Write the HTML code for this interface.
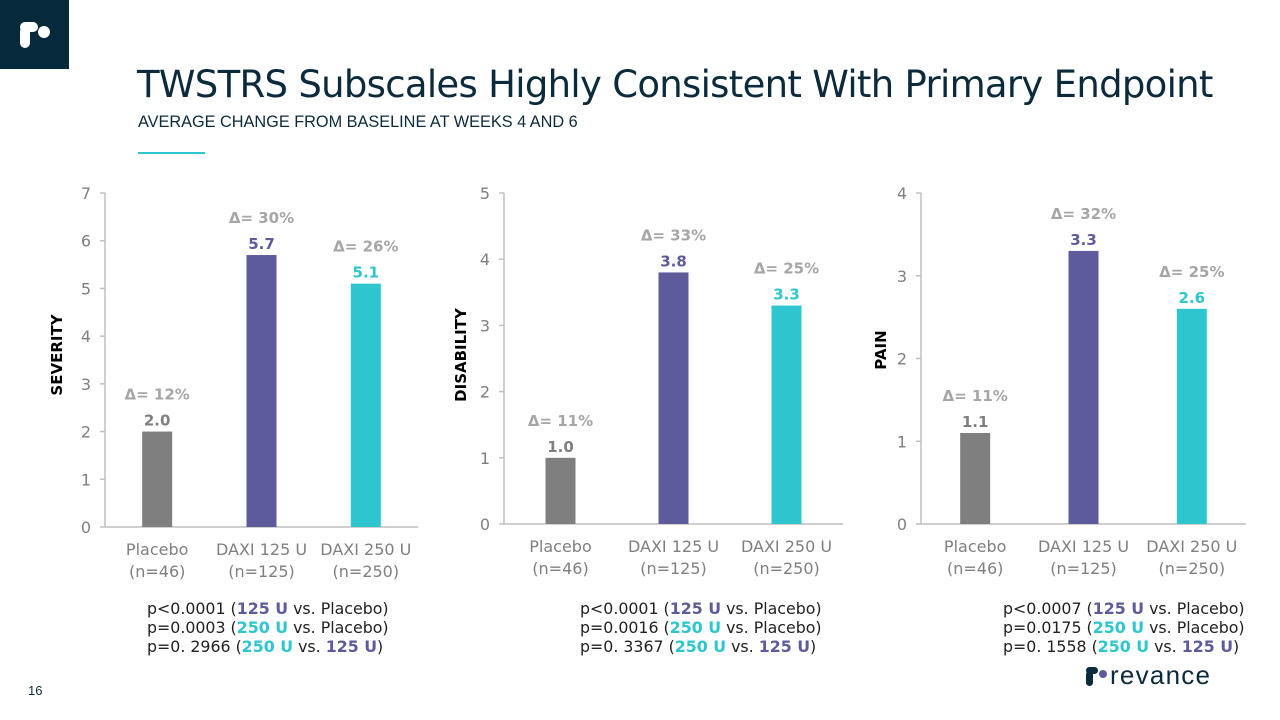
<!DOCTYPE html>
<html><head><meta charset="utf-8"><style>
body{margin:0;width:1280px;height:720px;background:#fff;position:relative;overflow:hidden;font-family:"Liberation Sans",sans-serif}
.abs{position:absolute}
.pv{position:absolute;line-height:19px;color:#222;font-family:"DejaVu Sans","Liberation Sans",sans-serif;font-size:15.8px}
.p{color:#5e5b9b;font-weight:bold}.t{color:#2dc6cf;font-weight:bold}
</style></head><body>
<div class="abs" style="left:0;top:0;width:69px;height:69px;background:#062a3b">
<svg width="69" height="69"><rect x="20" y="26" width="10" height="22" rx="5" fill="#fff"/><rect x="20" y="22" width="18" height="10" rx="5" fill="#fff"/><circle cx="44" cy="32" r="6" fill="#fff"/></svg></div>
<div class="abs" style="left:137px;top:63px;font-size:37px;color:#0b2a3b;font-family:'DejaVu Sans',sans-serif;letter-spacing:-0.7px;white-space:nowrap">TWSTRS Subscales Highly Consistent With Primary Endpoint</div>
<div class="abs" style="left:138px;top:113px;font-size:16.3px;color:#0b2a3b;white-space:nowrap">AVERAGE CHANGE FROM BASELINE AT WEEKS 4 AND 6</div>
<div class="abs" style="left:138px;top:152px;width:67px;height:2px;background:#2dc6cf"></div>
<svg class="abs" style="left:0;top:0" width="1280" height="720" id="charts"></svg>
<div class="pv" style="left:147px;top:599px">p&lt;0.0001 (<span class="p">125 U</span> vs. Placebo)<br>p=0.0003 (<span class="t">250 U</span> vs. Placebo)<br>p=0. 2966 (<span class="t">250 U</span> vs. <span class="p">125 U</span>)</div>
<div class="pv" style="left:580px;top:599px">p&lt;0.0001 (<span class="p">125 U</span> vs. Placebo)<br>p=0.0016 (<span class="t">250 U</span> vs. Placebo)<br>p=0. 3367 (<span class="t">250 U</span> vs. <span class="p">125 U</span>)</div>
<div class="pv" style="left:1003px;top:599px">p&lt;0.0007 (<span class="p">125 U</span> vs. Placebo)<br>p=0.0175 (<span class="t">250 U</span> vs. Placebo)<br>p=0. 1558 (<span class="t">250 U</span> vs. <span class="p">125 U</span>)</div>
<div class="abs" style="left:28px;top:683px;font-size:13px;color:#0b2a3b">16</div>
<div class="abs" style="left:1084px;top:658px;width:140px;height:32px">
<svg width="140" height="32"><rect x="2" y="13" width="7" height="15" rx="3.5" fill="#0b2a3b"/><rect x="2" y="9" width="12" height="7" rx="3.5" fill="#0b2a3b"/><circle cx="19" cy="16" r="4" fill="#5e5b9b"/><text x="26" y="26" font-size="26" fill="#0b2a3b" font-family="Liberation Sans, sans-serif" textLength="100">revance</text></svg></div>
<script>
const categories=["Placebo|(n=46)","DAXI 125 U|(n=125)","DAXI 250 U|(n=250)"];
const colors=["#7f7f7f","#5e5b9b","#2dc6cf"];
const severityValues=[2.0,5.7,5.1];
const severityDeltas=["Δ= 12%","Δ= 30%","Δ= 26%"];
const disabilityValues=[1.0,3.8,3.3];
const disabilityDeltas=["Δ= 11%","Δ= 33%","Δ= 25%"];
const painValues=[1.1,3.3,2.6];
const painDeltas=["Δ= 11%","Δ= 32%","Δ= 25%"];
const severityTicks=[0,1,2,3,4,5,6,7];
const disabilityTicks=[0,1,2,3,4,5];
const painTicks=[0,1,2,3,4];
const svg=document.getElementById('charts');
const NS='http://www.w3.org/2000/svg';
function mk(tag,attrs,txt){const e=document.createElementNS(NS,tag);for(const k in attrs)e.setAttribute(k,attrs[k]);if(txt!==undefined)e.textContent=txt;svg.appendChild(e);return e;}
function draw(cfg,values,deltas,ticks,title,name){
  const max=ticks[ticks.length-1];
  const y=v=>cfg.y0-(cfg.y0-cfg.y1)*v/max;
  const ax=mk('line',{x1:cfg.ax,x2:cfg.ax,y1:cfg.y1,y2:cfg.y0,stroke:'#bfbfbf','stroke-width':1.5});
  
  const bl=mk('line',{x1:cfg.ax,x2:cfg.xe,y1:cfg.y0,y2:cfg.y0,stroke:'#bfbfbf','stroke-width':1.5});
  
  ticks.forEach(t=>{
    mk('line',{x1:cfg.ax-5,x2:cfg.ax,y1:y(t),y2:y(t),stroke:'#bfbfbf','stroke-width':1.5});
    const tl=mk('text',{x:cfg.ax-14,y:y(t)+6,'text-anchor':'end','font-size':16,fill:'#7f7f7f','font-family':'DejaVu Sans, sans-serif'},t);
    
  });
  const step=(cfg.xe-cfg.ax)/3;
  values.forEach((v,i)=>{
    const cx=cfg.ax+step*(i+0.5);
    const b=mk('rect',{x:cx-15,y:y(v),width:30,height:cfg.y0-y(v),fill:colors[i]});
    
    const vl=mk('text',{x:cx,y:y(v)-6,'text-anchor':'middle','font-size':15,'font-weight':'bold',fill:i==0?'#7f7f7f':colors[i],'font-family':'DejaVu Sans, sans-serif'},v.toFixed(1));
    
    const dl=mk('text',{x:cx,y:y(v)-32,'text-anchor':'middle','font-size':15,'font-weight':'bold',fill:'#a6a6a6','font-family':'DejaVu Sans, sans-serif'},deltas[i]);
    
    categories[i].split('|').forEach((s,j)=>{
      const c=mk('text',{x:cx,y:cfg.y0+28+j*22,'text-anchor':'middle','font-size':16,fill:'#7f7f7f','font-family':'DejaVu Sans, sans-serif'},s);
      
    });
  });
  const at=mk('text',{x:0,y:0,transform:`translate(${cfg.tx},${cfg.ty}) rotate(-90)`,'text-anchor':'middle','font-size':15,'font-weight':'bold',fill:'#000','font-family':'DejaVu Sans, sans-serif'},title);
  
}
draw({ax:105,xe:418,y0:527,y1:193,tx:62,ty:355},severityValues,severityDeltas,severityTicks,'SEVERITY','severity');
draw({ax:504,xe:843,y0:524,y1:193,tx:466,ty:355},disabilityValues,disabilityDeltas,disabilityTicks,'DISABILITY','disability');
draw({ax:921,xe:1246,y0:524,y1:193,tx:886,ty:350},painValues,painDeltas,painTicks,'PAIN','pain');
</script>
</body></html>
